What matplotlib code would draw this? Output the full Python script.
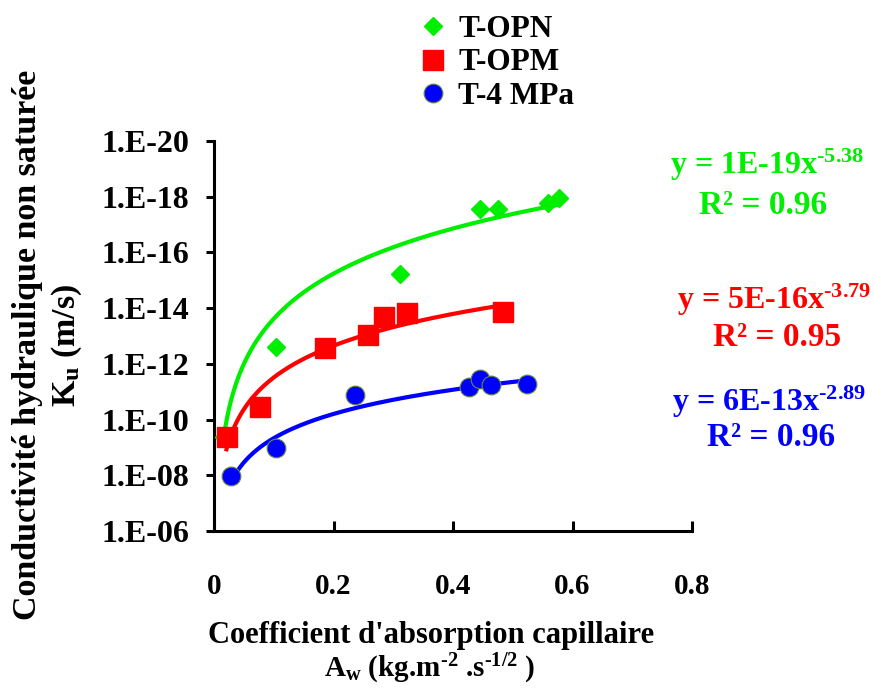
import numpy as np
import matplotlib
matplotlib.use("Agg")
import matplotlib.pyplot as plt
from matplotlib.ticker import FixedLocator, FuncFormatter

plt.rcParams['font.family'] = ['Liberation Serif', 'DejaVu Serif']
plt.rcParams['font.weight'] = 'bold'
plt.rcParams['mathtext.fontset'] = 'custom'
plt.rcParams['mathtext.rm'] = 'Liberation Serif:bold'
plt.rcParams['mathtext.bf'] = 'Liberation Serif:bold'
plt.rcParams['mathtext.it'] = 'Liberation Serif:bold'

# ---- data ----
opn_x = [0.017, 0.104, 0.311, 0.446, 0.476, 0.559, 0.577]
opn_log = [-9.37, -12.61, -15.22, -17.55, -17.55, -17.76, -17.94]

opm_x = [0.0225, 0.0775, 0.186, 0.258, 0.285, 0.323, 0.483]
opm_log = [-9.38, -10.46, -12.56, -13.04, -13.69, -13.84, -13.87]

mpa_x = [0.028, 0.104, 0.236, 0.426, 0.445, 0.464, 0.524]
mpa_log = [-7.97, -8.97, -10.88, -11.18, -11.45, -11.24, -11.28]

# power-law trendlines y = a * x^b  (as shown on chart)
fit_a = [1e-19, 5e-16, 6e-13]
fit_b = [-5.38, -3.79, -2.89]
fit_xmin = [0.016, 0.02, 0.028]
fit_xmax = [0.58, 0.485, 0.524]

labels = ['T-OPN', 'T-OPM', 'T-4 MPa']
colors = ['#00ee00', '#ff0000', '#0000ff']
eq_text = ['y = 1E-19x$^{\\text{-5.38}}$',
           'y = 5E-16x$^{\\text{-3.79}}$',
           'y = 6E-13x$^{\\text{-2.89}}$']
r2_text = ['R² = 0.96', 'R² = 0.95', 'R² = 0.96']

yticks_exp = [-20, -18, -16, -14, -12, -10, -8, -6]
xticks = [0, 0.2, 0.4, 0.6, 0.8]

W, H = 874, 689
fig = plt.figure(figsize=(W / 100, H / 100), dpi=100)
ax = fig.add_axes([214 / W, 1 - 531 / H, (692 - 214) / W, (531 - 141) / H])

# trendlines
for a, b, x0, x1, c in zip(fit_a, fit_b, fit_xmin, fit_xmax, colors):
    xx = np.linspace(x0, x1, 300)
    ax.plot(xx, a * xx ** b, color=c, lw=3, zorder=2, solid_capstyle='butt')

h1, = ax.plot(opn_x, 10.0 ** np.array(opn_log), 'D', color=colors[0], ms=9.5,
              mec=colors[0], ls='none', zorder=3)
h2, = ax.plot(opm_x, 10.0 ** np.array(opm_log), 's', color=colors[1], ms=14,
              mec=colors[1], ls='none', zorder=4)
h3, = ax.plot(mpa_x, 10.0 ** np.array(mpa_log), 'o', color=colors[2], ms=13.5,
              mec='#6b8a3a', mew=0.8, ls='none', zorder=4)

ax.set_yscale('log')
ax.set_ylim(1e-6, 1e-20)
ax.set_xlim(0, 0.8)
ax.yaxis.set_major_locator(FixedLocator([10.0 ** e for e in yticks_exp]))
ax.yaxis.set_minor_locator(FixedLocator([]))
ax.yaxis.set_major_formatter(FuncFormatter(lambda v, p: '1.E-%02d' % round(-np.log10(v))))
ax.xaxis.set_major_locator(FixedLocator(xticks))
ax.xaxis.set_major_formatter(FuncFormatter(lambda v, p: '0' if v == 0 else '%.1f' % v))

for s in ['top', 'right']:
    ax.spines[s].set_visible(False)
for s in ['left', 'bottom']:
    ax.spines[s].set_linewidth(2.2)
ax.tick_params(axis='y', direction='out', length=6, width=2.2, labelsize=23, pad=12)
ax.tick_params(axis='x', direction='in', length=7, width=2.2, labelsize=21, pad=30)

leg = fig.legend([h1, h2, h3], labels, loc='center left',
                 bbox_to_anchor=(405 / W, 1 - 63 / H), frameon=False,
                 fontsize=22.5, labelspacing=0.14, handletextpad=0.3,
                 borderpad=0.4, borderaxespad=0, markerscale=1.0, handlelength=1.0)

# equations
eq_pos = [(767, 165, 763, 205), (774, 300, 777, 338), (769, 402, 771, 438)]
for (ex, ey, rx, ry), t1, t2, c in zip(eq_pos, eq_text, r2_text, colors):
    fig.text(ex / W, 1 - ey / H, t1, color=c, fontsize=23, ha='center', va='center')
    fig.text(rx / W, 1 - ry / H, t2, color=c, fontsize=24, ha='center', va='center')

# axis labels
fig.text(431 / W, 1 - 636 / H, "Coefficient d'absorption capillaire",
         fontsize=22, ha='center', va='center')
fig.text(430 / W, 1 - 669 / H,
         'A$_{\\mathregular{w}}$ (kg.m$^{\\text{-2}}$ .s$^{\\text{-1/2}}$ )',
         fontsize=21, ha='center', va='center')
fig.text(28 / W, 1 - 345 / H, 'Conductivité hydraulique non saturée',
         fontsize=24.5, rotation=90, ha='center', va='center')
fig.text(67 / W, 1 - 345 / H, 'K$_{\\mathregular{u}}$ (m/s)',
         fontsize=24.5, rotation=90, ha='center', va='center')

fig.savefig('out.png', dpi=100)
